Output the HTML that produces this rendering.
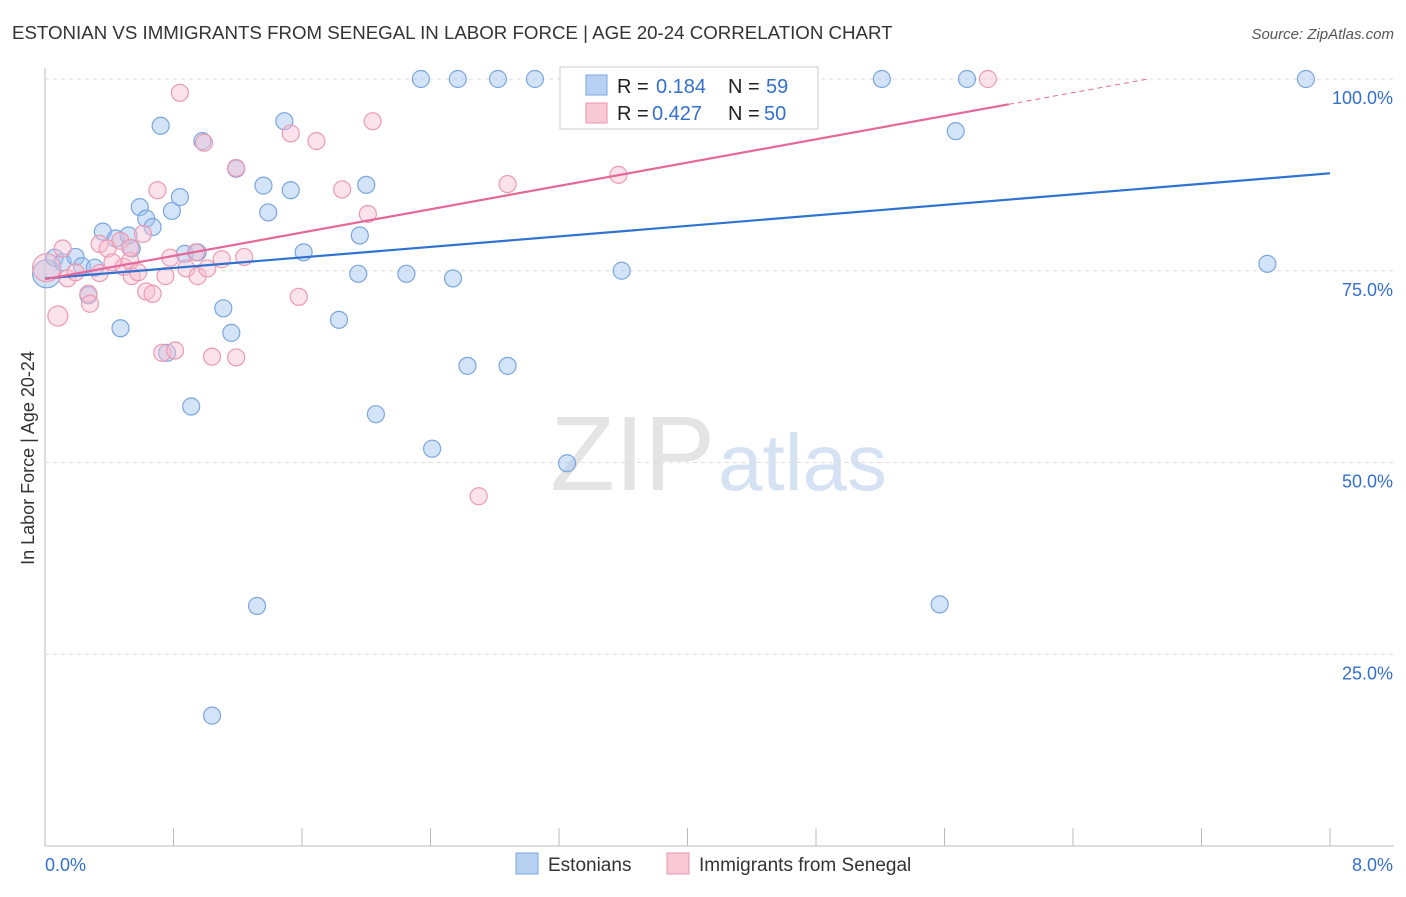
<!DOCTYPE html>
<html><head><meta charset="utf-8"><style>
body{margin:0;background:#fff;font-family:"Liberation Sans",sans-serif;}
svg text{font-family:"Liberation Sans",sans-serif;}
</style></head><body>
<svg id="c" width="1406" height="892" xmlns="http://www.w3.org/2000/svg">
<text x="12" y="39" font-size="18.7" fill="#333">ESTONIAN VS IMMIGRANTS FROM SENEGAL IN LABOR FORCE | AGE 20-24 CORRELATION CHART</text>
<text x="1394" y="39" font-size="15" fill="#555" font-style="italic" text-anchor="end">Source: ZipAtlas.com</text>
<text x="715" y="490" font-size="106" font-family="Liberation Serif" fill="#e4e4e4" text-anchor="end">ZIP</text>
<text x="718" y="490" font-size="80" fill="#d5e2f3">atlas</text>
<text transform="translate(34,458) rotate(-90)" font-size="18" fill="#333" text-anchor="middle">In Labor Force | Age 20-24</text>
<g id="grid"></g><g id="pts"></g><g id="lines"></g>
<g>
<rect x="560" y="67" width="258" height="62" fill="#fff" stroke="#ccc"/>
<rect x="586" y="75" width="21" height="20" fill="#b7d1f3" stroke="#7aa6e0"/>
<text x="617" y="93" font-size="20" fill="#222">R = </text><text x="656" y="93" font-size="20" fill="#3370cc">0.184</text>
<text x="728" y="93" font-size="20" fill="#222">N = </text><text x="766" y="93" font-size="20" fill="#3370cc">59</text>
<rect x="586" y="103" width="21" height="20" fill="#f9c9d6" stroke="#e994ae"/>
<text x="617" y="120" font-size="20" fill="#222">R = </text><text x="652" y="120" font-size="20" fill="#3370cc">0.427</text>
<text x="728" y="120" font-size="20" fill="#222">N = </text><text x="764" y="120" font-size="20" fill="#3370cc">50</text>
</g>
<g>
<rect x="516" y="853" width="22" height="21" fill="#b7d1f3" stroke="#7aa6e0"/>
<text x="548" y="871" font-size="19" fill="#333">Estonians</text>
<rect x="667" y="853" width="22" height="21" fill="#f9c9d6" stroke="#e994ae"/>
<text x="699" y="871" font-size="19" fill="#333">Immigrants from Senegal</text>
</g>
</svg>
<script>
const xTicks=[0,0.8,1.6,2.4,3.2,4,4.8,5.6,6.4,7.2,8];
const yTicks=[25,50,75,100];
const yTickLabels=["25.0%","50.0%","75.0%","100.0%"];
const xEndLabels=["0.0%","8.0%"];
const blueX=[0.01,0.06,0.11,0.19,0.23,0.27,0.31,0.36,0.44,0.47,0.52,0.54,0.59,0.63,0.67,0.72,0.76,0.79,0.84,0.87,0.91,0.95,0.98,1.04,1.11,1.16,1.19,1.32,1.36,1.39,1.49,1.53,1.61,1.83,1.95,1.96,2.0,2.06,2.25,2.34,2.41,2.54,2.57,2.63,2.82,2.88,3.05,3.25,3.59,4.4,5.21,5.57,5.67,5.74,7.61,7.85];
const blueY=[74.6,76.7,76.1,76.8,75.6,71.8,75.4,80.1,79.2,67.5,79.6,77.9,83.3,81.8,80.7,93.9,64.3,82.8,84.6,77.2,57.3,77.4,91.9,17.0,70.1,66.9,88.3,31.3,86.1,82.6,94.5,85.5,77.4,68.6,74.6,79.6,86.2,56.3,74.6,100,51.8,74.0,100,62.6,100,62.6,100,49.9,75.0,100,100,31.5,93.2,100,75.9,100];
const pinkX=[0.01,0.08,0.11,0.14,0.19,0.27,0.28,0.34,0.39,0.42,0.47,0.49,0.53,0.54,0.58,0.61,0.63,0.67,0.70,0.73,0.75,0.78,0.81,0.84,0.88,0.94,0.95,0.99,1.01,1.04,1.10,1.19,1.19,1.24,1.53,1.58,1.69,1.85,2.01,2.04,2.70,2.88,3.57,3.67,5.87,0.53,0.34];
const pinkY=[75.4,69.1,77.9,74.0,74.8,72.0,70.7,78.5,77.9,76.1,78.9,75.5,76.3,74.3,74.8,79.8,72.3,72.0,85.5,64.3,74.3,76.7,64.6,98.2,75.3,77.4,74.3,91.7,75.3,63.8,76.5,88.4,63.7,76.8,92.9,71.6,91.9,85.6,82.4,94.5,45.6,86.3,87.5,94.9,100,78.0,74.7];
const blueFit=[74.0,87.7];
const pinkFit=[73.9,96.7];
const NS="http://www.w3.org/2000/svg";
const X0=45,X1=1330,Y0=846,Y100=79;
const sx=v=>X0+(X1-X0)*v/8;
const sy=v=>Y0-(Y0-Y100)*v/100;
function mk(t,a,p){const e=document.createElementNS(NS,t);for(const k in a)e.setAttribute(k,a[k]);p.appendChild(e);return e;}
const grid=document.getElementById('grid');
mk('line',{x1:X0,y1:Y0,x2:1394,y2:Y0,stroke:'#bbb'},grid);
mk('line',{x1:X0,y1:68,x2:X0,y2:Y0,stroke:'#bbb'},grid);
yTicks.forEach((t,i)=>{
 const l=mk('line',{x1:X0,y1:sy(t),x2:1394,y2:sy(t),stroke:'#ddd','stroke-dasharray':'4,4'},grid);
 
 
 const tx=mk('text',{x:1393,y:sy(t)+25,'font-size':18,fill:'#3370cc','text-anchor':'end'},grid);
 tx.textContent=yTickLabels[i];
 
 
});
xTicks.forEach(t=>{
 const l=mk('line',{x1:sx(t),y1:Y0,x2:sx(t),y2:Y0-18,stroke:'#bbb'},grid);
 
 
});
[[0,45,'start'],[1,1393,'end']].forEach(([i,x,a])=>{
 const tx=mk('text',{x:x,y:871,'font-size':18,fill:'#3370cc','text-anchor':a},grid);
 tx.textContent=xEndLabels[i];
 
 
});
const pts=document.getElementById('pts');
blueX.forEach((x,i)=>{
 const c=mk('circle',{cx:sx(x),cy:sy(blueY[i]),r:i==0?14:8.5,fill:'rgba(160,195,240,0.45)',stroke:'#7aa6e0','stroke-width':1.2},pts);
 
 
});
pinkX.forEach((x,i)=>{
 const c=mk('circle',{cx:sx(x),cy:sy(pinkY[i]),r:i==0?14:(i==1?10:8.5),fill:'rgba(248,190,208,0.45)',stroke:'#ec9ab3','stroke-width':1.2},pts);
 
 
});
const lines=document.getElementById('lines');
const bl=mk('line',{x1:sx(0),y1:sy(blueFit[0]),x2:sx(8),y2:sy(blueFit[1]),stroke:'#2f72d0','stroke-width':2.2},lines);


const ps=(pinkFit[1]-pinkFit[0])/6;
const pl=mk('line',{x1:sx(0),y1:sy(pinkFit[0]),x2:sx(6),y2:sy(pinkFit[1]),stroke:'#e4689a','stroke-width':2.2},lines);


const xe=(100-pinkFit[0])/ps;
const pd=mk('line',{x1:sx(6),y1:sy(pinkFit[1]),x2:sx(xe),y2:sy(100),stroke:'#e4689a','stroke-width':1,'stroke-dasharray':'5,4'},lines);


</script>
</body></html>
